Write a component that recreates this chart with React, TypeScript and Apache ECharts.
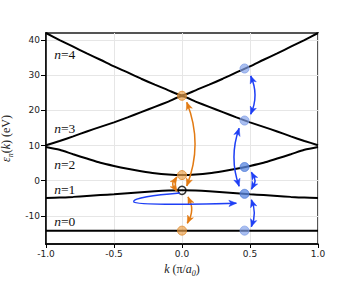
import React, { useEffect, useRef } from 'react';
import * as echarts from 'echarts';

type P = [number, number];

// crystal momentum k (units of pi/a0)
const K = [-1, -0.9, -0.8, -0.7, -0.6, -0.5, -0.4, -0.3, -0.2, -0.1, 0, 0.1, 0.2, 0.3, 0.4, 0.5, 0.6, 0.7, 0.8, 0.9, 1];
// band energies (eV)
const BAND0 = [-14.2, -14.2, -14.2, -14.2, -14.2, -14.2, -14.2, -14.2, -14.2, -14.2, -14.2, -14.2, -14.2, -14.2, -14.2, -14.2, -14.2, -14.2, -14.2, -14.2, -14.2];
const BAND1 = [-4.9, -4.8, -4.6, -4.35, -4.1, -3.85, -3.55, -3.25, -3.0, -2.82, -2.75, -2.82, -3.0, -3.25, -3.55, -3.85, -4.1, -4.35, -4.6, -4.8, -4.9];
const BAND2 = [9.6, 8.8, 7.5, 6.3, 5.1, 4.2, 3.4, 2.7, 2.1, 1.75, 1.6, 1.75, 2.1, 2.7, 3.4, 4.2, 5.1, 6.3, 7.5, 8.8, 9.6];
const BAND3 = [10.1, 11.3, 12.6, 14.0, 15.3, 16.6, 18.0, 19.5, 21.0, 22.5, 24.0, 22.5, 21.0, 19.5, 18.0, 16.6, 15.3, 14.0, 12.6, 11.3, 10.1];
const BAND4 = [42.0, 40.0, 38.1, 36.2, 34.4, 32.5, 30.8, 29.0, 27.3, 25.7, 24.3, 25.7, 27.3, 29.0, 30.8, 32.5, 34.4, 36.2, 38.1, 40.0, 42.0];
const BANDS = [BAND0, BAND1, BAND2, BAND3, BAND4];

// band labels: [k, energy, n]
const BAND_LABELS: [number, number, number][] = [
  [-0.94, -11.6, 0],
  [-0.94, -2.6, 1],
  [-0.94, 4.6, 2],
  [-0.94, 14.8, 3],
  [-0.94, 36, 4],
];

// marked states
const ORANGE_POINTS: P[] = [[0, 24.15], [0, 1.6], [0, -14.2]];
const HOLLOW_POINTS: P[] = [[0, -2.75]];
const BLUE_LIGHT_POINTS: P[] = [[0.46, 31.9], [0.46, 17.1], [0.46, -14.2]];
const BLUE_DARK_POINTS: P[] = [[0.46, 3.9], [0.46, -3.73]];

// arrows (bezier segments in data coords), heads: [atStart, atEnd]
const ORANGE_ARROWS: { segs: P[][]; heads: [boolean, boolean] }[] = [
  { segs: [[[0.035, 22.3], [0.157, 10.4], [0.035, -1.5]]], heads: [true, true] },
  { segs: [[[-0.037, 1.0], [-0.099, -0.85], [-0.037, -3.0]]], heads: [true, true] },
  { segs: [[[0.044, -4.6], [0.101, -8.25], [0.039, -12.1]]], heads: [true, true] },
];
const BLUE_ARROWS: { segs: P[][]; heads: [boolean, boolean] }[] = [
  { segs: [[[0.505, 29.8], [0.569, 24.3], [0.505, 18.9]]], heads: [true, true] },
  { segs: [[[0.42, 14.9], [0.344, 6.6], [0.42, -1.6]]], heads: [true, true] },
  { segs: [[[0.51, 2.4], [0.564, 0], [0.51, -2.4]]], heads: [true, true] },
  { segs: [[[0.51, -5.4], [0.554, -9.25], [0.51, -13.1]]], heads: [true, true] },
  {
    segs: [
      [[-0.015, -3.5], [-0.2, -4.1], [-0.365, -4.9], [-0.355, -6.0]],
      [[-0.355, -6.0], [-0.35, -6.8], [-0.1, -6.9], [0.40, -6.4]],
    ],
    heads: [false, true],
  },
];

const Y_TICKS = [-10, 0, 10, 20, 30, 40];

const ORANGE = '#e27a12';
const BLUE = '#1e3ff5';
const SERIF = 'Liberation Serif';
const SANS = 'DejaVu Sans';

function bez(seg: number[][], t: number): number[] {
  const u = 1 - t;
  if (seg.length === 3) {
    return [
      u * u * seg[0][0] + 2 * u * t * seg[1][0] + t * t * seg[2][0],
      u * u * seg[0][1] + 2 * u * t * seg[1][1] + t * t * seg[2][1],
    ];
  }
  return [
    u * u * u * seg[0][0] + 3 * u * u * t * seg[1][0] + 3 * u * t * t * seg[2][0] + t * t * t * seg[3][0],
    u * u * u * seg[0][1] + 3 * u * u * t * seg[1][1] + 3 * u * t * t * seg[2][1] + t * t * t * seg[3][1],
  ];
}

function head(seg: number[][], atEnd: boolean, color: string) {
  const L = 7.5, W = 3.2, N = 5.5;
  const tip = atEnd ? seg[seg.length - 1] : seg[0];
  let back = tip;
  for (let i = 1; i <= 100; i++) {
    const t = atEnd ? 1 - i / 100 : i / 100;
    back = bez(seg, t);
    if (Math.hypot(back[0] - tip[0], back[1] - tip[1]) >= L) break;
  }
  const dx = tip[0] - back[0], dy = tip[1] - back[1];
  const len = Math.hypot(dx, dy) || 1;
  const ux = dx / len, uy = dy / len, px = -uy, py = ux;
  return {
    type: 'polygon',
    shape: {
      points: [
        [tip[0], tip[1]],
        [tip[0] - ux * L + px * W, tip[1] - uy * L + py * W],
        [tip[0] - ux * N, tip[1] - uy * N],
        [tip[0] - ux * L - px * W, tip[1] - uy * L - py * W],
      ],
    },
    style: { fill: color, stroke: color, lineWidth: 0.5 },
  };
}

function arrowSeries(arrows: { segs: P[][]; heads: [boolean, boolean] }[], color: string) {
  return {
    type: 'custom',
    z: 6,
    silent: true,
    data: arrows.map((a) => a.segs[0][0]),
    renderItem: (params: any, api: any) => {
      const a = arrows[params.dataIndex];
      const segs = a.segs.map((s) => s.map((p) => api.coord(p)));
      const children: any[] = segs.map((s) => ({
        type: 'bezierCurve',
        shape: s.length === 3
          ? { x1: s[0][0], y1: s[0][1], cpx1: s[1][0], cpy1: s[1][1], x2: s[2][0], y2: s[2][1] }
          : { x1: s[0][0], y1: s[0][1], cpx1: s[1][0], cpy1: s[1][1], cpx2: s[2][0], cpy2: s[2][1], x2: s[3][0], y2: s[3][1] },
        style: { stroke: color, lineWidth: 1.5, fill: 'none' },
      }));
      if (a.heads[0]) children.push(head(segs[0], false, color));
      if (a.heads[1]) children.push(head(segs[segs.length - 1], true, color));
      return { type: 'group', children };
    },
  };
}

export default function App() {
  const ref = useRef<HTMLDivElement>(null);
  useEffect(() => {
    if (!ref.current) return;
    const chart = echarts.init(ref.current, null, { renderer: 'svg' });
    const nameRich = {
      i: { fontFamily: SERIF, fontStyle: 'italic', fontSize: 12, color: '#222', lineHeight: 16, verticalAlign: 'middle' },
      r: { fontFamily: SERIF, fontSize: 12, color: '#222', lineHeight: 16, verticalAlign: 'middle' },
      s: { fontFamily: SERIF, fontStyle: 'italic', fontSize: 8, color: '#222', lineHeight: 9, verticalAlign: 'bottom' },
    };
    const option: any = {
      animation: false,
      backgroundColor: '#ffffff',
      grid: {
        left: 46, right: 38, top: 33, bottom: 38,
        show: true, borderColor: '#555555', borderWidth: 2,
        containLabel: false, outerBoundsMode: 'none',
      },
      xAxis: {
        type: 'value',
        min: -1,
        max: 1,
        interval: 0.5,
        axisLine: { onZero: false, lineStyle: { color: '#000', width: 1.5 } },
        axisTick: { show: true, length: 4, lineStyle: { color: '#000', width: 1 } },
        axisLabel: { fontFamily: SANS, fontSize: 9, color: '#222', margin: 5, formatter: (v: number) => v.toFixed(1) },
        splitLine: { show: true, lineStyle: { color: '#e6e6e6', width: 1 } },
        name: '{i|k} {r|(π/}{i|a}{s|0}{r|)}',
        nameLocation: 'middle',
        nameGap: 17,
        nameTextStyle: { fontFamily: SERIF, fontSize: 12, color: '#222', rich: nameRich },
      },
      yAxis: {
        type: 'value',
        min: -18,
        max: 42,
        axisLine: { show: true, onZero: false, lineStyle: { color: '#000', width: 1.5 } },
        axisTick: { show: true, length: 5, customValues: Y_TICKS, lineStyle: { color: '#000', width: 1 } },
        axisLabel: { fontFamily: SANS, fontSize: 9, color: '#222', margin: 6, customValues: Y_TICKS },
        splitLine: { show: true, lineStyle: { color: '#e6e6e6', width: 1 } },
        name: '{i|ε}{s|n}{r|(}{i|k}{r|) (eV)}',
        nameLocation: 'middle',
        nameGap: 13,
        nameTextStyle: { fontFamily: SERIF, fontSize: 12, color: '#222', rich: nameRich },
      },
      series: [
        ...BANDS.map((b) => ({
          type: 'line',
          data: K.map((k, i) => [k, b[i]]),
          smooth: 0.25,
          showSymbol: false,
          silent: true,
          z: 2,
          lineStyle: { color: '#000', width: 2 },
        })),
        {
          type: 'custom',
          data: BAND_LABELS,
          silent: true,
          z: 3,
          renderItem: (params: any, api: any) => {
            const d = BAND_LABELS[params.dataIndex];
            const pt = api.coord([d[0], d[1]]);
            return {
              type: 'text',
              x: pt[0],
              y: pt[1],
              style: {
                text: `{i|n}{r|=${d[2]}}`,
                align: 'left',
                verticalAlign: 'middle',
                fill: '#111',
                font: `13.5px "${SERIF}"`,
                rich: {
                  i: { fontFamily: SERIF, fontStyle: 'italic', fontSize: 13.5, fill: '#111' },
                  r: { fontFamily: SERIF, fontSize: 13.5, fill: '#111' },
                },
              },
            };
          },
        },
        {
          type: 'scatter',
          data: ORANGE_POINTS,
          symbolSize: 9,
          silent: true,
          z: 4,
          itemStyle: { color: 'rgba(235,160,75,0.85)', borderColor: '#e08a2a', borderWidth: 1 },
        },
        {
          type: 'scatter',
          data: BLUE_LIGHT_POINTS,
          symbolSize: 9,
          silent: true,
          z: 4,
          itemStyle: { color: 'rgba(130,160,235,0.85)', borderColor: '#7f9de6', borderWidth: 1 },
        },
        {
          type: 'scatter',
          data: BLUE_DARK_POINTS,
          symbolSize: 9,
          silent: true,
          z: 4,
          itemStyle: { color: 'rgba(90,135,225,0.95)', borderColor: '#4f7bd8', borderWidth: 1 },
        },
        {
          type: 'scatter',
          data: HOLLOW_POINTS,
          symbolSize: 8,
          silent: true,
          z: 5,
          itemStyle: { color: 'rgba(255,255,255,0)', borderColor: '#000', borderWidth: 1.5 },
        },
        arrowSeries(ORANGE_ARROWS, ORANGE),
        arrowSeries(BLUE_ARROWS, BLUE),
      ],
    };
    chart.setOption(option);
    return () => chart.dispose();
  }, []);
  return (
    <div
      ref={ref}
      style={{ position: 'fixed', left: 0, top: 0, width: 356, height: 282, background: '#fff' }}
    />
  );
}
